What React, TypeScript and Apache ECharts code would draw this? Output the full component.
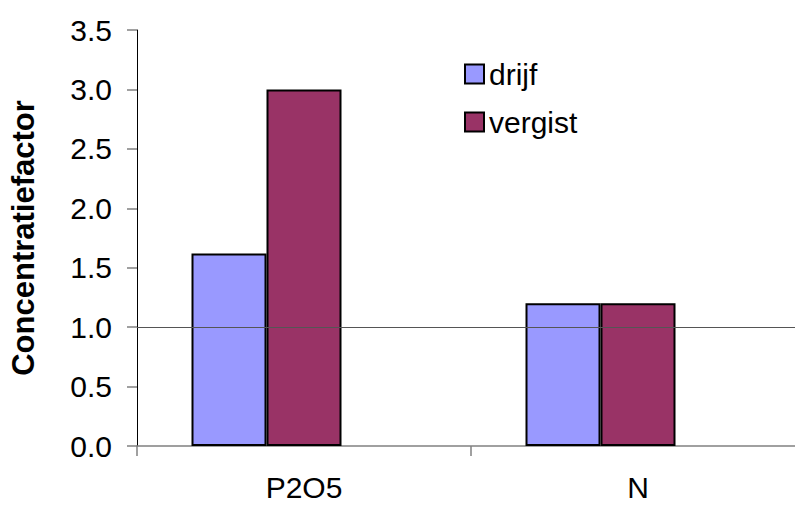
import React, { useEffect, useRef } from "react";
import * as echarts from "echarts";

const categories = ["P2O5", "N"];
const drijf = [1.62, 1.2];
const vergist = [3.0, 1.2];
const yTicks = [0, 0.5, 1.0, 1.5, 2.0, 2.5, 3.0, 3.5];
const referenceLevel = 1.0;

const FONT = "'Liberation Sans', Arial, sans-serif";

export default function App() {
  const ref = useRef<HTMLDivElement>(null);

  useEffect(() => {
    document.body.style.margin = "0";
    if (!ref.current) return;
    const chart = echarts.init(ref.current, null, { renderer: "svg" });
    chart.setOption({
      animation: false,
      backgroundColor: "#ffffff",
      textStyle: { fontFamily: FONT },
      // the plot runs past the visible right edge, so the canvas is wider than the frame
      grid: { left: 133, width: 672, top: 30, height: 416, containLabel: false },
      legend: {
        data: ["drijf", "vergist"],
        orient: "vertical",
        left: 459,
        top: 54,
        itemWidth: 19,
        itemHeight: 19,
        itemGap: 18,
        icon: "rect",
        textStyle: { fontSize: 30, color: "#000", fontFamily: FONT },
      },
      xAxis: {
        type: "category",
        data: categories,
        boundaryGap: true,
        axisLine: { lineStyle: { color: "#808080", width: 1.5 } },
        axisTick: { show: true, length: 10, lineStyle: { color: "#808080", width: 1.5 } },
        axisLabel: { fontSize: 30, color: "#000", margin: 26, fontFamily: FONT },
        splitLine: { show: false },
      },
      yAxis: {
        type: "value",
        min: yTicks[0],
        max: yTicks[yTicks.length - 1],
        interval: 0.5,
        name: "Concentratiefactor",
        nameLocation: "middle",
        nameGap: 98,
        nameRotate: 90,
        nameTextStyle: { fontSize: 31, fontWeight: "bold", color: "#000", fontFamily: FONT },
        axisLine: { show: true, lineStyle: { color: "#000", width: 1 } },
        axisTick: { show: true, length: 10, inside: false, lineStyle: { color: "#808080", width: 1.5 } },
        axisLabel: {
          fontSize: 30,
          color: "#000",
          margin: 25,
          fontFamily: FONT,
          formatter: (v: number) => v.toFixed(1),
        },
        splitLine: { show: false },
      },
      series: [
        {
          name: "drijf",
          type: "bar",
          data: drijf,
          barWidth: 75,
          barGap: "0%",
          itemStyle: { color: "#9999FF", borderColor: "#000", borderWidth: 2 },
        },
        {
          name: "vergist",
          type: "bar",
          data: vergist,
          barWidth: 75,
          barGap: "0%",
          itemStyle: { color: "#993366", borderColor: "#000", borderWidth: 2 },
          markLine: {
            silent: true,
            symbol: "none",
            label: { show: false },
            lineStyle: { color: "#555", width: 1.2, type: "solid" },
            data: [{ yAxis: referenceLevel }],
            z: 10,
          },
        },
        {
          name: "leeg",
          type: "bar",
          data: [null, null],
          barWidth: 75,
          barGap: "0%",
        },
      ],
    });
    return () => chart.dispose();
  }, []);

  return (
    <div style={{ width: 795, height: 506, overflow: "hidden" }}>
      <div ref={ref} style={{ width: 815, height: 506 }} />
    </div>
  );
}
